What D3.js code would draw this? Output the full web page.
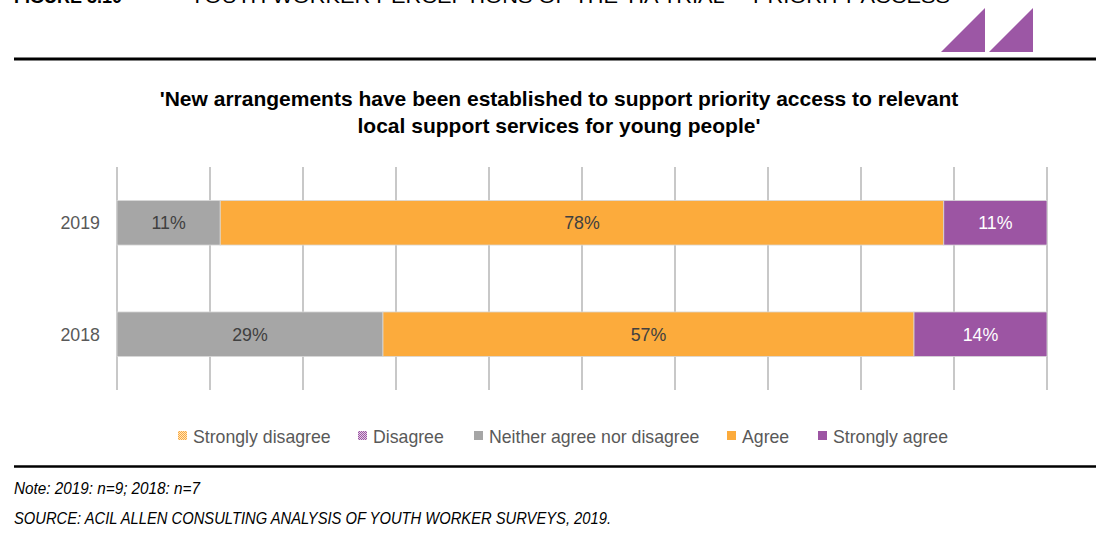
<!DOCTYPE html>
<html><head><meta charset="utf-8">
<script src="https://cdn.jsdelivr.net/npm/d3@7"></script>
<style>body{margin:0;background:#fff;overflow:hidden}svg{display:block;font-family:"Liberation Sans",Arial,sans-serif}</style>
</head><body><svg id="c" width="1096" height="535"></svg>
<script>
const years = ["2019", "2018"];
const seriesNames = ["Strongly disagree", "Disagree", "Neither agree nor disagree", "Agree", "Strongly agree"];
const stronglyDisagree = [0, 0];
const disagree = [0, 0];
const neither = [11.1, 28.6];
const agree = [77.8, 57.1];
const stronglyAgree = [11.1, 14.3];
const xTicks = [0, 10, 20, 30, 40, 50, 60, 70, 80, 90, 100];
const colors = ["#fbc98a", "#c99bcd", "#a6a6a6", "#fcab3c", "#9c55a3"];

const svg = d3.select("#c");
const defs = svg.append("defs");
function pat(id, c1, c2){
  const p = defs.append("pattern").attr("id", id).attr("width", 2).attr("height", 2).attr("patternUnits", "userSpaceOnUse");
  p.append("rect").attr("width", 2).attr("height", 2).attr("fill", c2);
  p.append("rect").attr("width", 1).attr("height", 1).attr("fill", c1);
  p.append("rect").attr("x", 1).attr("y", 1).attr("width", 1).attr("height", 1).attr("fill", c1);
}
pat("pSD", "#fcab3c", "#fde3c0");
pat("pD", "#9c55a3", "#e2cce5");
const fills = ["url(#pSD)", "url(#pD)", colors[2], colors[3], colors[4]];

// page heading (cut off at the top edge, as in the original page crop)
svg.append("text").attr("x", 14).attr("y", 3).attr("font-size", 18).attr("font-weight", "bold").attr("fill", "#000")
  .text("FIGURE 3.10");
svg.append("text").attr("x", 190).attr("y", 3).attr("font-size", 18).attr("fill", "#000")
  .attr("textLength", 760).attr("lengthAdjust", "spacingAndGlyphs")
  .text("YOUTH WORKER PERCEPTIONS OF THE 'HA TRIAL' – PRIORITY ACCESS");

// logo
const tri = (x0) => `M${x0},52 L${x0+44},52 L${x0+44},8 Z`;
svg.append("path").attr("d", tri(941)).attr("fill", "#9c57a5");
svg.append("path").attr("d", tri(989)).attr("fill", "#9c57a5");

// rules
svg.append("line").attr("x1", 14).attr("x2", 1096).attr("y1", 59).attr("y2", 59).attr("stroke", "#000").attr("stroke-width", 3);
svg.append("line").attr("x1", 14).attr("x2", 1096).attr("y1", 466.5).attr("y2", 466.5).attr("stroke", "#000").attr("stroke-width", 2.5);

// chart title
const title = svg.append("text").attr("text-anchor", "middle").attr("font-size", 21).attr("font-weight", "bold").attr("fill", "#000");
title.append("tspan").attr("x", 559).attr("y", 106).text("'New arrangements have been established to support priority access to relevant");
title.append("tspan").attr("x", 559).attr("y", 133).text("local support services for young people'");

const x = d3.scaleLinear().domain([0, 100]).range([117, 1047]);
const y = d3.scaleBand().domain(years).range([167, 390]).paddingInner(0.6).paddingOuter(0.3);

// gridlines
svg.append("g").selectAll("line").data(xTicks).join("line")
  .attr("x1", d => x(d)).attr("x2", d => x(d)).attr("y1", 167).attr("y2", 390)
  .attr("stroke", "#c8c8c8").attr("stroke-width", 2);

// y labels
svg.append("g").selectAll("text").data(years).join("text")
  .attr("x", 100).attr("y", d => y(d) + y.bandwidth()/2 + 6.5).attr("text-anchor", "end")
  .attr("font-size", 17.8).attr("fill", "#595959").text(d => d);

const rows = years.map((yr, i) => ({ yr, vals: [stronglyDisagree[i], disagree[i], neither[i], agree[i], stronglyAgree[i]] }));
rows.forEach(r => {
  let acc = 0;
  r.vals.forEach((v, k) => {
    const x0 = acc; acc += v;
    if (v <= 0) return;
    svg.append("rect").attr("x", x(x0)).attr("y", y(r.yr)).attr("width", x(acc) - x(x0)).attr("height", y.bandwidth())
      .attr("fill", fills[k]).attr("stroke", "#d9d9d9").attr("stroke-width", 0.8);
    svg.append("text").attr("x", (x(x0) + x(acc)) / 2).attr("y", y(r.yr) + y.bandwidth()/2 + 6.5)
      .attr("text-anchor", "middle").attr("font-size", 17.8)
      .attr("fill", k === 4 ? "#ffffff" : "#404040").text(Math.round(v) + "%");
  });
});

// legend
const legX = [178, 358, 474, 727, 818];
const leg = svg.append("g");
seriesNames.forEach((n, k) => {
  leg.append("rect").attr("x", legX[k]).attr("y", 431).attr("width", 9).attr("height", 9).attr("fill", fills[k]);
  leg.append("text").attr("x", legX[k] + 15).attr("y", 442.5).attr("font-size", 17.7).attr("fill", "#595959").text(n);
});

// notes
svg.append("text").attr("x", 14).attr("y", 494).attr("font-size", 16).attr("font-style", "italic").attr("fill", "#000")
  .attr("textLength", 186).attr("lengthAdjust", "spacingAndGlyphs")
  .text("Note: 2019: n=9; 2018: n=7");
svg.append("text").attr("x", 14).attr("y", 524).attr("font-size", 16).attr("font-style", "italic").attr("fill", "#000")
  .attr("textLength", 597).attr("lengthAdjust", "spacingAndGlyphs")
  .text("SOURCE: ACIL ALLEN CONSULTING ANALYSIS OF YOUTH WORKER SURVEYS, 2019.");
</script></body></html>
